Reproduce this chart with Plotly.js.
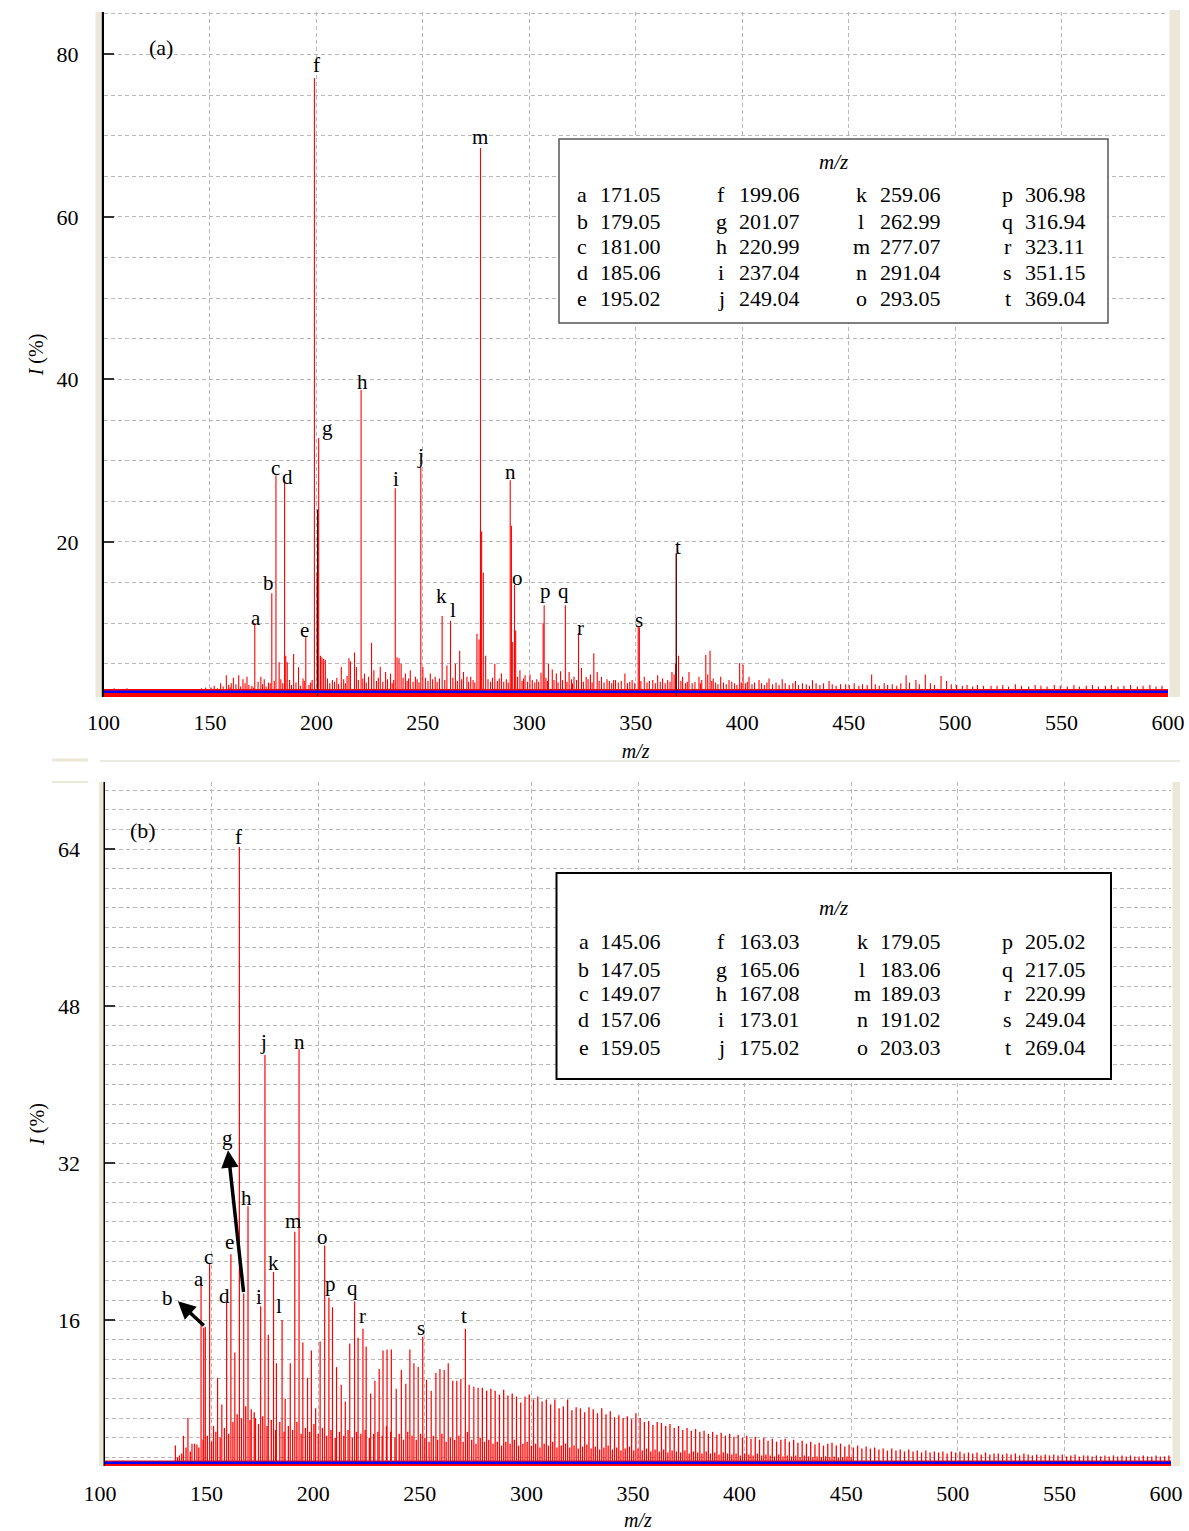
<!DOCTYPE html>
<html><head><meta charset="utf-8">
<script src="https://cdn.plot.ly/plotly-3.0.1.min.js"></script>
<style>html,body{margin:0;padding:0;background:#fff}#chart{width:1189px;height:1531px}</style>
</head><body><div id="chart"></div>
<script>
// ---------------- Panel (a) data ----------------
const aLabelLetters = ['a','b','c','d','e','f','g','h','i','j','k','l','m','n','o','p','q','r','s','t'];
const aLabelMz  = [171.05,179.05,181.00,185.06,195.02,199.06,201.07,220.99,237.04,249.04,259.06,262.99,277.07,291.04,293.05,306.98,316.94,323.11,351.15,369.04];
const aLabelInt = [10.0,13.7,28.2,27.6,8.3,77.1,32.8,38.7,26.6,29.2,10.9,10.3,68.5,27.6,14.7,12.2,12.2,8.8,9.7,18.6];

const aOtherMz  = [157.7,160.0,161.0,163.5,165.5,167.4,169.7,173.9,175.5,177.5,182.5,183.3,185.6,186.3,189.3,191.6,193.7,198.0,200.3,201.9,202.6,203.4,204.2,207.5,211.7,215.3,216.0,217.9,218.8,222.6,225.9,227.0,230.0,232.5,234.8,237.9,238.8,239.8,241.8,244.1,246.5,250.0,253.5,255.8,261.3,265.3,267.3,269.1,270.7,272.5,275.4,276.4,277.6,278.4,279.5,283.8,286.9,291.6,292.2,293.6,295.6,298.0,300.3,305.5,306.5,309.0,310.8,312.7,314.7,318.7,321.0,324.5,326.7,328.7,330.3,331.9,333.9,336.5,340.5,344.9,348.3,351.7,354.0,358.0,360.3,362.6,365.0,367.0,368.0,368.7,370.1,372.0,375.0,379.7,381.0,382.9,383.8,384.9,386.4,389.9,393.8,398.8,400.4,403.2,407.9,412.6,418.8,425.0,433.0,440.8,448.6,460.8,477.0,481.6,486.0,493.4,496.0,516.9];
const aOtherInt = [3.6,2.6,3.3,3.6,3.1,3.4,2.3,3.4,3.1,2.7,5.2,3.1,6.0,5.2,6.2,4.6,3.2,3.0,16.2,6.0,5.8,5.6,5.5,3.0,4.6,5.7,5.3,6.4,4.6,3.8,7.6,4.2,4.6,4.0,3.8,5.8,5.7,5.0,3.8,4.2,3.4,4.6,3.8,3.4,4.8,5.0,6.6,4.0,3.4,3.4,8.7,8.0,21.3,16.2,6.0,5.0,3.8,22.0,7.7,9.1,4.2,3.6,3.7,3.9,10.0,5.0,4.3,3.8,4.1,4.0,3.4,4.5,3.4,3.7,6.3,4.0,3.4,3.1,3.0,3.8,3.0,9.5,3.4,3.0,3.6,3.2,3.0,4.0,3.7,5.0,6.0,3.4,4.0,3.4,3.0,6.1,3.7,6.6,3.2,3.4,3.0,5.1,4.9,3.4,3.0,3.2,3.1,2.9,3.0,2.9,2.5,3.7,3.6,3.0,3.7,3.5,2.9,2.3];

const aDarkMz  = [200.55,369.04];
const aDarkInt = [24.0,18.6];

const aGrassMz  = [103,105,108,111,118,124,135,141,146,148,150.5,152,153.6,155,156.2,158.8,159.5,162.2,164.4,166.5,168.3,170.4,172.6,174.7,176.4,178.3,180.2,184.2,187.4,188.3,190.4,192.5,194.3,196.5,197.3,205.2,206.3,208.5,209.6,210.4,212.8,213.6,214.4,219.7,221.8,223.4,224.5,228.2,229.1,231.2,233.4,235.6,236.3,240.7,242.6,243.3,245.4,247.3,248.2,251.2,252.4,254.6,256.7,257.8,260.3,264.1,266.2,268.2,271.5,273.6,274.4,280.6,281.8,282.7,285.0,285.9,288.0,289.2,290.1,294.5,296.6,297.3,299.2,301.4,302.6,303.5,304.4,307.8,308.5,311.6,313.5,315.6,317.7,319.8,320.3,322.2,325.4,327.6,329.5,332.8,335.1,337.6,338.7,339.6,341.8,343.2,346.1,347.2,349.5,352.4,355.3,356.4,359.2,361.5,363.8,366.1,371.2,373.4,374.2,376.5,377.8,380.4,385.7,387.5,388.6,391.2,392.5,395.1,396.4,397.5,399.6,401.5,402.4,404.6,405.8,409.1,410.4,411.6,414.2,415.9,417.3,420.2,422.1,423.8,426.4,428.3,430.1,431.6,434.7,436.5,438.2,442.3,444.1,446.2,450.3,452.6,454.8,456.5,458.7,462.5,464.4,466.7,468.3,470.5,472.6,474.5,478.6,483.2,488.4,490.3,498.2,500.7,503.4,505.6,508.2,510.5,513.3,519.7,522.4,525.1,528.3,531.2,534.5,537.6,540.3,543.2,546.6,549.4,552.7,555.8,558.4,561.6,564.5,567.3,570.6,573.4,576.5,579.3,582.4,585.6,588.3,591.5,594.4,597.2];
const aGrassInt = [1.9,2.0,1.9,2.0,1.9,1.9,1.9,1.9,2.0,2.1,2.1,2.3,2.0,2.6,2.2,2.4,2.1,2.5,2.2,2.6,2.4,2.1,2.8,2.5,2.2,2.6,2.9,2.6,3.0,2.4,2.7,2.3,2.9,2.4,2.7,3.2,2.6,2.8,3.3,2.5,3.1,2.6,3.5,3.0,3.2,2.7,3.4,2.9,3.3,2.8,3.1,2.6,3.0,3.3,2.9,3.2,2.8,3.1,2.7,3.3,2.9,3.1,2.8,3.2,3.0,3.3,2.9,3.1,2.8,3.0,2.7,3.1,2.8,3.3,2.9,3.2,2.8,3.1,2.7,3.4,2.9,3.2,2.8,3.0,2.7,3.1,2.8,3.3,2.9,3.0,2.7,3.0,2.8,3.1,2.6,3.0,2.8,3.1,2.7,2.9,2.7,2.9,2.6,3.0,2.7,2.9,2.6,2.8,2.6,2.9,2.7,2.9,2.6,2.8,2.6,2.8,2.9,2.6,2.8,2.6,2.8,2.6,2.9,2.7,2.5,2.7,2.5,2.8,2.6,2.4,2.7,2.6,2.8,2.5,2.7,2.6,2.4,2.7,2.5,2.7,2.4,2.6,2.4,2.6,2.4,2.6,2.5,2.3,2.6,2.4,2.6,2.5,2.3,2.5,2.4,2.6,2.3,2.5,2.4,2.5,2.3,2.6,2.4,2.5,2.3,2.6,2.7,2.5,2.6,2.4,2.5,2.4,2.3,2.4,2.2,2.4,2.3,2.3,2.4,2.2,2.5,2.3,2.2,2.4,2.3,2.2,2.4,2.3,2.2,2.4,2.2,2.3,2.4,2.2,2.3,2.4,2.2,2.3,2.4,2.2,2.3,2.4,2.2,2.3];

// ---------------- Panel (b) data ----------------
const bLabelLetters = ['a','b','c','d','e','f','g','h','i','j','k','l','m','n','o','p','q','r','s','t'];
const bLabelMz  = [145.06,147.05,149.07,157.06,159.05,163.03,165.06,167.08,173.01,175.02,179.05,183.06,189.03,191.02,203.03,205.02,217.05,220.99,249.04,269.04];
const bLabelInt = [19.8,15.3,21.8,17.8,22.7,64.2,18.7,27.6,17.4,43.0,20.9,16.0,25.0,43.6,23.6,18.3,17.9,15.1,14.3,15.1];

const bOtherMz  = [133.0,134.9,136.8,138.9,140.8,143.1,146.3,150.9,152.8,154.8,160.9,168.6,170.6,176.6,180.4,184.5,186.9,192.8,195.0,196.8,198.8,200.9,206.7,208.6,210.8,212.7,214.8,218.7,222.5,224.6,226.6,228.6,230.4,232.3,234.3,236.6,239.0,241.1,243.0,244.9,246.9,250.8,253.0,255.2,257.1,259.1,261.0,263.1,265.0,266.9,270.8,273.0,275.0];
const bOtherInt = [3.2,2.2,4.2,6.0,3.4,3.3,15.2,5.2,10.1,7.4,12.7,6.9,6.0,14.5,11.6,8.0,11.6,13.7,10.1,12.9,7.0,13.8,17.3,11.2,9.4,7.7,13.6,14.2,13.3,8.5,9.8,11.0,12.9,13.0,13.0,9.0,10.9,9.5,13.0,11.6,11.2,9.9,8.8,10.6,11.0,10.9,11.6,9.8,9.8,10.0,9.4,9.2,9.1];

const bTailMz  = [277,279,281,283,285,287,289,291,293,295,297,299,301,303,305,307,309,311,313,315,317,319,321,323,325,327,329,331,333,335,337,339,341,343,345,347,349,351,353,355,357,359,361,363,365,367,369,371,373,375,377,379,381,383,385,387,389,391,393,395,397,399,401,403,405,407,409,411,413,415,417,419,421,423,425,427,429,431,433,435,437,439,441,443,445,447,449,451,453,455,457,459,461,463,465,467,469,471,473,475,477,479,481,483,485,487,489,491,493,495,497,499,501,503,505,507,509,511,513,515,517,519,521,523,525,527,529,531,533,535,537,539,541,543,545,547,549,551,553,555,557,559,561,563,565,567,569,571,573,575,577,579,581,583,585,587,589,591,593,595,597,599];
const bTailInt = [9.1,8.8,9.0,8.8,8.4,8.9,8.3,8.5,8.2,7.6,8.2,8.4,7.9,8.2,7.7,7.9,7.4,7.9,7.0,7.2,7.9,6.8,7.1,7.0,6.6,7.1,6.9,6.5,7.0,6.4,6.7,6.1,6.3,6.0,6.2,5.9,6.5,6.0,5.6,5.7,5.3,5.6,5.5,5.2,5.4,5.0,5.2,4.8,5.0,4.7,4.9,4.6,4.7,4.4,4.6,4.3,4.5,4.2,4.4,4.1,4.3,4.0,4.2,3.9,4.1,3.8,4.0,3.7,3.9,3.6,3.8,3.9,3.6,3.8,3.5,3.7,3.4,3.6,3.3,3.5,3.2,3.4,3.5,3.2,3.4,3.1,3.3,3.0,3.2,2.9,3.1,2.9,3.0,2.8,2.9,2.7,2.9,2.7,2.8,2.6,2.8,2.6,2.7,2.5,2.7,2.5,2.6,2.5,2.6,2.4,2.6,2.5,2.6,2.4,2.5,2.4,2.5,2.3,2.5,2.3,2.4,2.4,2.3,2.4,2.3,2.4,2.2,2.4,2.3,2.2,2.3,2.2,2.3,2.2,2.3,2.2,2.3,2.1,2.2,2.3,2.1,2.2,2.2,2.1,2.2,2.1,2.2,2.1,2.2,2.1,2.2,2.1,2.2,2.1,2.1,2.2,2.1,2.1,2.2,2.1,2.1,2.2];

const bFillMz  = [134,136,138,140,142,144,146,148,150,152,154,156,158,160,162,164,166,168,170,172,174,176,178,180,182,184,186,188,190,192,194,196,198,200,202,204,206,208,210,212,214,216,218,220,222,224,226,228,230,232,234,236,238,240,242,244,246,248,250,252,254,256,258,260,262,264,266,268,270,272,274,276,278,280,282,284,286,288,290,292,294,296,298,300,302,304,306,308,310,312,314,316,318,320,322,324,326,328,330,332,334,336,338,340,342,344,346,348,350,352,354,356,358,360,362,364,366,368,370,372,374,376,378,380,382,384,386,388,390,392,394,396,398,400,402,404,406,408,410,412,414,416,418,420,422,424,426,428,430,432,434,436,438,440,442,444,446,448,450];
const bFillInt = [2.0,2.4,3.0,2.6,3.4,3.0,3.8,4.2,3.6,4.6,4.0,5.0,4.4,5.6,6.4,6.0,7.2,5.8,6.6,5.4,6.2,5.2,5.8,4.8,5.6,4.6,5.2,4.8,5.6,4.4,5.0,4.6,5.4,4.4,5.0,4.2,4.8,4.0,4.6,4.2,4.8,4.0,4.6,4.4,4.8,4.0,4.4,4.6,4.2,5.2,4.6,4.0,4.4,3.8,4.6,4.2,3.8,4.4,4.0,3.6,4.2,3.8,4.4,3.6,4.0,3.8,4.2,3.6,4.6,3.8,3.4,4.0,3.6,3.8,3.4,3.6,3.2,3.6,3.4,3.8,3.2,3.4,3.6,3.2,3.4,3.0,3.4,3.2,3.6,3.0,3.2,3.4,3.0,3.2,2.9,3.1,3.3,2.9,3.1,2.8,3.0,3.2,2.8,3.0,2.7,2.9,3.1,2.7,2.9,2.7,2.9,2.6,2.8,2.6,2.8,2.5,2.7,2.6,2.5,2.7,2.4,2.6,2.5,2.4,2.6,2.4,2.5,2.3,2.5,2.4,2.3,2.4,2.2,2.4,2.3,2.2,2.4,2.2,2.3,2.2,2.1,2.3,2.1,2.2,2.1,2.2,2.0,2.2,2.1,2.0,2.1,2.0,2.1,2.0,2.1,2.0,2.0,2.1,2.0];

// ---------------- Styling (positions / sizes) ----------------
const W = 1189, H = 1531;
const FONT = 'Liberation Serif, "Times New Roman", serif';
const RED = '#ff0000', DARK = '#3a0606', BLUE = '#0000ff', BEIGE = '#ebe7d9', GRID = '#b8b8b8';
const aLabelDx  = [1,-3,0,3,-1,2,9,1,1,0,-1,2,0,0,3,1,-2,2,1,2];
const aLabelGap = [5,10,7,3,7,13,10,8,9,11,20,11,11,8,7,14,14,5,6,6];
const bLabelDx  = [-2,-38,-1,-2,-1,-1,-16,-2,-2,-1,0,-3,-2,0,-2,2,-2,0,-2,-1];
const bLabelGap = [4,29,6,6,12,10,156,8,9,13,9,14,11,7,8,13,13,13,9,13];

const px = v => v / W;
const py = v => 1 - v / H;

function segs(mz, h, base) {
  const x = [], y = [];
  for (let i = 0; i < mz.length; i++) { x.push(mz[i], mz[i], null); y.push(base, h[i], null); }
  return {x, y};
}
function lineTrace(d, xa, ya, color, width) {
  return {type:'scatter', mode:'lines', x:d.x, y:d.y, xaxis:xa, yaxis:ya,
          line:{color:color, width:width}, hoverinfo:'skip', showlegend:false};
}
function flat(xa, ya, yv, color, width) {
  return {type:'scatter', mode:'lines', x:[100,600], y:[yv,yv], xaxis:xa, yaxis:ya,
          line:{color:color, width:width}, hoverinfo:'skip', showlegend:false};
}

const traces = [
  flat('x','y',1.4,RED,8),
  lineTrace(segs(aGrassMz,aGrassInt,1.0),'x','y',RED,1.1),
  lineTrace(segs(aOtherMz,aOtherInt,1.0),'x','y',RED,1.1),
  lineTrace(segs(aLabelMz,aLabelInt,1.0),'x','y',RED,1.1),
  lineTrace(segs(aDarkMz,aDarkInt,1.0),'x','y',DARK,1.1),
  flat('x','y',1.58,BLUE,2.5),

  flat('x2','y2',1.37,RED,6),
  lineTrace(segs(bFillMz,bFillInt,1.0),'x2','y2',RED,1.3),
  lineTrace(segs(bTailMz,bTailInt,1.0),'x2','y2',RED,1.3),
  lineTrace(segs(bOtherMz,bOtherInt,1.0),'x2','y2',RED,1.2),
  lineTrace(segs(bLabelMz,bLabelInt,1.0),'x2','y2',RED,1.2),
  flat('x2','y2',1.46,BLUE,2.5)
];

const tickFont = {family:FONT, size:22, color:'#000'};
const gridDash = '4px,3px';
function xAxis(domain, anchor, shift, lblStandoff, titleStandoff) {
  return {domain:domain, anchor:anchor, range:[100,600], dtick:50, tick0:100,
    showgrid:true, gridcolor:GRID, griddash:gridDash, gridwidth:1, zeroline:false,
    showline:false, ticks:'', tickfont:tickFont, ticklabelstandoff:lblStandoff, ticklabelshift:shift,
    title:{text:'<i>m/z</i>', font:{family:FONT, size:20, color:'#000'}, standoff:titleStandoff}};
}
function yAxis(domain, anchor, range, dtick, minor) {
  return {domain:domain, anchor:anchor, range:range, dtick:dtick, tick0:0,
    showgrid:true, gridcolor:GRID, griddash:gridDash, gridwidth:1, zeroline:false,
    showline:true, linecolor:'#000', linewidth:2.5,
    ticks:'inside', ticklen:10, tickwidth:2, tickcolor:'#333',
    tickfont:tickFont, ticklabelstandoff:18,
    minor:{dtick:minor, tick0:0, showgrid:true, gridcolor:GRID, griddash:gridDash, gridwidth:1, ticks:''},
    title:{text:'<i>I</i> (%)', font:{family:FONT, size:20, color:'#000'}, standoff:8}};
}

const annotations = [];
function peakLabels(letters, mz, ints, dx, gap, xr, yr) {
  for (let i = 0; i < letters.length; i++) {
    annotations.push({x:mz[i], y:ints[i], xref:xr, yref:yr, text:letters[i], showarrow:false,
      xanchor:'center', yanchor:'middle', xshift:dx[i], yshift:gap[i],
      font:{family:FONT, size:21, color:'#000'}});
  }
}
peakLabels(aLabelLetters, aLabelMz, aLabelInt, aLabelDx, aLabelGap, 'x', 'y');
peakLabels(bLabelLetters, bLabelMz, bLabelInt, bLabelDx, bLabelGap, 'x2', 'y2');

// arrows in panel (b): from peak (tail) to moved label (head)
annotations.push({x:157.7, y:33.3, xref:'x2', yref:'y2', ax:bLabelMz[6], ay:bLabelInt[6], axref:'x2', ayref:'y2',
  text:'', showarrow:true, arrowhead:2, arrowsize:1, arrowwidth:3.5, arrowcolor:'#000', standoff:0, startstandoff:0});
annotations.push({x:134.2, y:17.9, xref:'x2', yref:'y2', ax:bLabelMz[1], ay:bLabelInt[1], axref:'x2', ayref:'y2',
  text:'', showarrow:true, arrowhead:2, arrowsize:1, arrowwidth:3.5, arrowcolor:'#000', standoff:0, startstandoff:0});

// legend tables
function legendTable(letters, mz, letterX, valueX, rowY, titleX, titleY) {
  annotations.push({x:px(titleX), y:py(titleY), xref:'paper', yref:'paper', text:'<i>m/z</i>', showarrow:false,
    xanchor:'center', yanchor:'middle', font:{family:FONT, size:21, color:'#000'}});
  for (let i = 0; i < letters.length; i++) {
    const c = Math.floor(i / 5), r = i % 5;
    annotations.push({x:px(letterX[c]), y:py(rowY[r]), xref:'paper', yref:'paper', text:letters[i], showarrow:false,
      xanchor:'center', yanchor:'middle', font:{family:FONT, size:22, color:'#000'}});
    annotations.push({x:px(valueX[c]), y:py(rowY[r]), xref:'paper', yref:'paper', text:mz[i].toFixed(2), showarrow:false,
      xanchor:'left', yanchor:'middle', font:{family:FONT, size:22, color:'#000'}});
  }
}
legendTable(aLabelLetters, aLabelMz, [582,721,861,1007.5], [598,737,878,1022.5], [195,221,246.5,272.5,298.5], 833.6, 162);
legendTable(bLabelLetters, bLabelMz, [583.5,721,862,1007.5], [598,737,878,1022.5], [941.7,969,993.3,1020,1047.3], 833.6, 907.7);

annotations.push({x:px(161), y:py(47), xref:'paper', yref:'paper', text:'(a)', showarrow:false,
  xanchor:'center', yanchor:'middle', font:{family:FONT, size:22, color:'#000'}});
annotations.push({x:px(143), y:py(830), xref:'paper', yref:'paper', text:'(b)', showarrow:false,
  xanchor:'center', yanchor:'middle', font:{family:FONT, size:22, color:'#000'}});

function rectPx(x0, y0, x1, y1, fill, lineColor, lineWidth, layer) {
  return {type:'rect', xref:'paper', yref:'paper', x0:px(x0), x1:px(x1), y0:py(y1), y1:py(y0),
    fillcolor:fill, line:{color:lineColor || 'rgba(0,0,0,0)', width:lineWidth || 0}, layer:layer || 'above'};
}
function linePx(x0, y0, x1, y1, color, width) {
  return {type:'line', xref:'paper', yref:'paper', x0:px(x0), x1:px(x1), y0:py(y0), y1:py(y1),
    line:{color:color, width:width}, layer:'above'};
}
const shapes = [
  rectPx(95.5,12,101.8,697,BEIGE),
  rectPx(1169.5,10,1180,697,BEIGE),
  rectPx(99,782,103.5,1466,BEIGE),
  rectPx(1172.5,782,1180,1466,BEIGE),
  linePx(52,760,88,760,BEIGE,3),
  linePx(100,761,1180,761,'#e4e4dc',1.5),
  linePx(52,782,88,782,BEIGE,2),
  rectPx(559,139,1108,323,'#ffffff','#555555',1.5),
  rectPx(556.5,873,1111,1079,'#ffffff','#000000',2)
];

const layout = {
  width:W, height:H, margin:{l:0, r:0, t:0, b:0},
  paper_bgcolor:'#ffffff', plot_bgcolor:'rgba(0,0,0,0)', showlegend:false,
  font:{family:FONT, color:'#000'},
  xaxis: xAxis([103.5/W, 1168/W], 'y', 0, 10, 9),
  yaxis: yAxis([1-697/H, 1-12/H], 'x', [0.92, 85.23], 20, 5),
  xaxis2: xAxis([105/W, 1171/W], 'y2', -5, 12, 10),
  yaxis2: yAxis([1-1466/H, 1-782/H], 'x2', [1.12, 70.83], 16, 2),
  annotations: annotations,
  shapes: shapes
};

Plotly.newPlot('chart', traces, layout, {displayModeBar:false, staticPlot:true});
</script></body></html>
